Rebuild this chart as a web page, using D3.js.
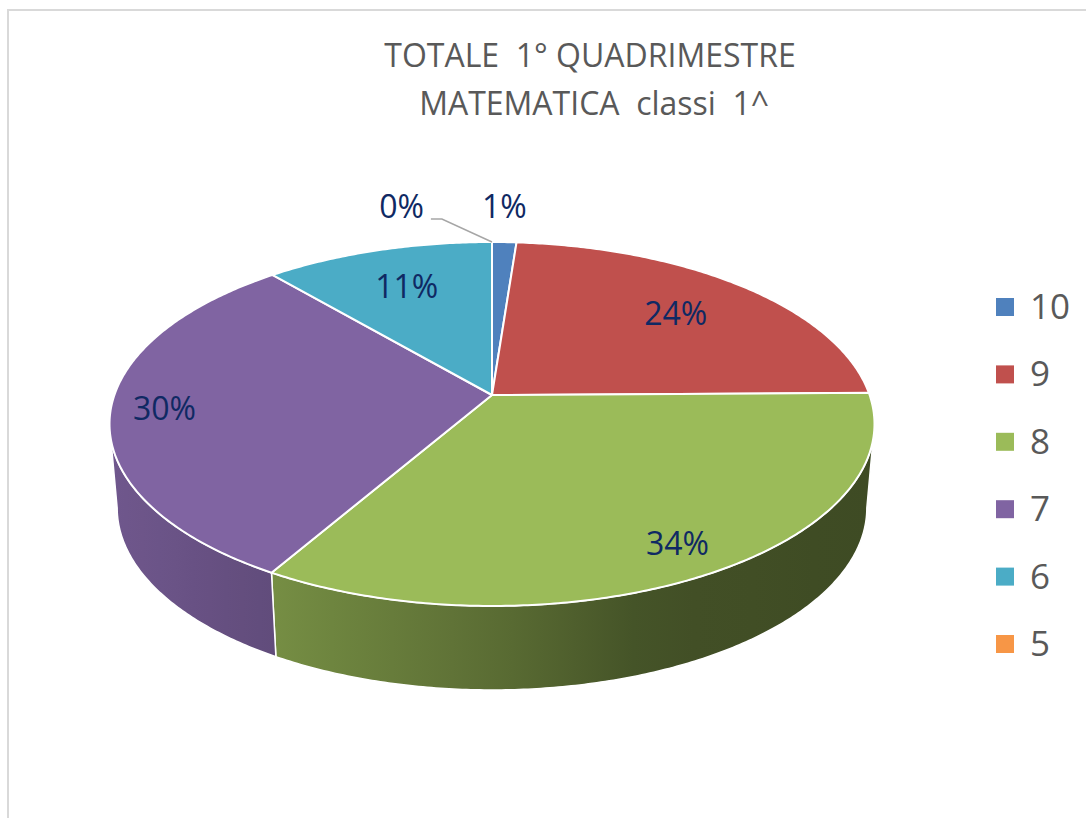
<!DOCTYPE html>
<html>
<head>
<meta charset="utf-8">
<script src="https://cdn.jsdelivr.net/npm/d3@7"></script>
<style>
body { margin: 0; background: #fff; }
text { font-family: "Open Sans", sans-serif; }
</style>
</head>
<body>
<svg id="chart" width="1086" height="818"></svg>
<script>
// data (shares in %, labels are rounded)
var categories = ["10", "9", "8", "7", "6", "5"];
var values = [1.2, 23.6, 33.6, 30.3, 11.3, 0];
var colors = ["#4F81BD", "#C0504D", "#9BBB59", "#8064A2", "#4BACC6", "#F79646"];
var titleLines = ["TOTALE  1° QUADRIMESTRE", " MATEMATICA  classi  1^"];

var svg = d3.select("#chart");
var defs = svg.append("defs");

// chart area border
svg.append("rect")
    .attr("x", 8).attr("y", 10)
    .attr("width", 1200).attr("height", 1000)
    .style("fill", "#fff")
    .style("stroke", "#D9D9D9")
    .style("stroke-width", 2);

// perspective projection of the pie disc
var cx = 492, A = 377.6, pa = 114.44, pb = 395, pc = -0.1593, depth = 84, shrink = 0.98;
function proj(theta, r, level){
    var X = r*Math.cos(theta), Z = r*Math.sin(theta), d = 1 + pc*Z;
    var x = A*X/d, y = (pa*Z + pb)/d;
    if(level){ x *= shrink; y += depth; }
    return [cx + x, y];
}
function arcPts(a0, a1, r, level){
    var pts = [];
    var n = Math.max(2, Math.ceil(Math.abs(a1 - a0)/0.01));
    for(var i = 0; i <= n; i++){
        pts.push(proj(a0 + (a1 - a0)*i/n, r, level));
    }
    return pts;
}

var color = d3.scaleOrdinal().domain(categories).range(colors);
var total = d3.sum(values);
var slices = d3.pie().sort(null).value(function(d){ return d; })(values);
slices.forEach(function(s, i){
    s.cat = categories[i];
    s.t0 = s.startAngle - Math.PI/2;
    s.t1 = s.endAngle - Math.PI/2;
    s.mid = (s.t0 + s.t1)/2;
    s.pct = Math.round(100*s.value/total);
});

// side shading follows screen x (light from the left)
var shade = d3.scaleLinear().domain([110, 272, 500, 650, 880]).range([0.87, 0.76, 0.58, 0.43, 0.40]).clamp(true);
function shaded(c, f){
    var r = d3.rgb(c);
    return d3.rgb(r.r*f, r.g*f, r.b*f).formatHex();
}

var vis0 = Math.asin(-pc), vis1 = Math.PI - vis0;
var line = d3.line();
var sides = svg.append("g");
slices.forEach(function(s, i){
    var a0 = Math.max(s.t0, vis0), a1 = Math.min(s.t1, vis1);
    if(s.value === 0 || a1 <= a0) return;
    var top = arcPts(a0, a1, 1, 0);
    var bot = arcPts(a1, a0, 1, 1);
    var xs = top.concat(bot).map(function(p){ return p[0]; });
    var x0 = d3.min(xs), x1 = d3.max(xs);
    var g = defs.append("linearGradient")
        .attr("id", "side" + i)
        .attr("gradientUnits", "userSpaceOnUse")
        .attr("x1", x0).attr("x2", x1).attr("y1", 0).attr("y2", 0);
    d3.range(0, 1.0001, 0.1).forEach(function(t){
        g.append("stop").attr("offset", t)
            .attr("stop-color", shaded(color(s.cat), shade(x0 + (x1 - x0)*t)));
    });
    sides.append("path")
        .attr("d", line(top.concat(bot)) + "Z")
        .style("fill", "url(#side" + i + ")")
        .style("stroke", "#fff")
        .style("stroke-width", 1.5)
        .style("stroke-linejoin", "round");
});

// top faces
svg.append("g").selectAll("path")
    .data(slices.filter(function(s){ return s.value > 0; }))
    .enter().append("path")
    .attr("d", function(s){
        return line([proj(0, 0, 0)].concat(arcPts(s.t0, s.t1, 1, 0))) + "Z";
    })
    .style("fill", function(s){ return color(s.cat); })
    .style("stroke", "#fff")
    .style("stroke-width", 2)
    .style("stroke-linejoin", "round");

// data labels
var labelColor = "#0F2963";
var labels = svg.append("g");
var placed = [];
slices.forEach(function(s){
    var txt = s.pct + "%";
    if(s.pct >= 5){
        var p = proj(s.mid, s.pct >= 25 ? 0.86 : 0.72, 0);
        labels.append("text")
            .attr("x", p[0]).attr("y", p[1] + 11)
            .attr("text-anchor", "middle")
            .style("font-size", "32px")
            .style("fill", labelColor)
            .text(txt);
        return;
    }
    var e = proj(s.mid, 1, 0);
    var t = labels.append("text")
        .attr("y", e[1] - 24)
        .style("font-size", "32px")
        .style("fill", labelColor)
        .text(txt);
    var w = t.node().getComputedTextLength();
    var left = e[0] - w/2;
    var moved = false;
    placed.forEach(function(b){
        if(left < b[1] && left + w > b[0]){ left = b[0] - 58 - w; moved = true; }
    });
    t.attr("x", left);
    placed.push([left, left + w]);
    if(moved){
        labels.append("path")
            .attr("d", line([[left + w + 7, e[1] - 23], [left + w + 18, e[1] - 23], e]))
            .style("fill", "none")
            .style("stroke", "#A6A6A6")
            .style("stroke-width", 1.5);
    }
});

// legend
var ly = d3.scalePoint().domain(categories).range([307, 644]);
var legend = svg.append("g").selectAll("g").data(categories).enter().append("g")
    .attr("transform", function(d){ return "translate(996," + ly(d) + ")"; });
legend.append("rect")
    .attr("x", 0).attr("y", -9).attr("width", 18).attr("height", 18)
    .style("fill", function(d){ return color(d); });
legend.append("text")
    .attr("x", 34).attr("y", 12)
    .style("font-size", "35px")
    .style("fill", "#595959")
    .text(function(d){ return d; });

// title
svg.append("g").selectAll("text").data(titleLines).enter().append("text")
    .attr("x", 590)
    .attr("y", function(d, i){ return 67 + i*48; })
    .attr("text-anchor", "middle")
    .style("white-space", "pre")
    .style("font-size", "32px")
    .style("fill", "#595959")
    .text(function(d){ return d; });
</script>
</body>
</html>
